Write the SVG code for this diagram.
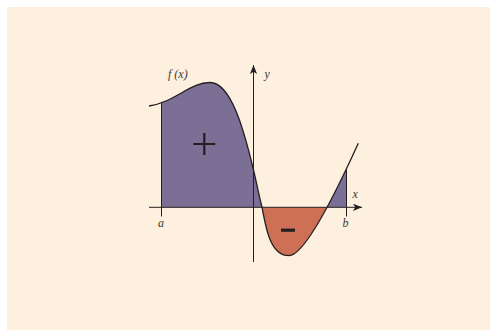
<svg xmlns="http://www.w3.org/2000/svg" width="490" height="331" viewBox="0 0 490 331">
<style>
.lbl{font-family:"Liberation Serif","DejaVu Serif",serif;font-style:italic;font-size:12px;fill:#3a3a3a}
.ax{stroke:#231f20;stroke-width:1;fill:none}
.crv{stroke:#231f20;stroke-width:1.3;fill:none}
</style>
<defs>
<marker id="arr" viewBox="0 0 10 8" refX="10" refY="4" markerUnits="userSpaceOnUse" markerWidth="9" markerHeight="7.2" orient="auto">
<path d="M0,0 L10,4 L0,8 L2.5,4 Z" fill="#231f20"/>
</marker>
<clipPath id="pos"><rect x="161.5" y="0" width="185" height="207.3"/></clipPath>
<clipPath id="neg"><rect x="161.5" y="207.3" width="185" height="100"/></clipPath>
</defs>
<rect x="0" y="0" width="490" height="331" fill="#ffffff"/>
<rect x="7" y="7" width="483" height="323" fill="#fef0de"/>
<g id="areas">
<path d="M149,106 C175,102 190,82.5 210,82.5 C231,82.5 244,130 253.5,170 C257,185 259,195 261.5,205 C265,220 268,255.7 289,255.7 C305,255.7 338.3,187.3 358.3,143.3 L358.3,207.3 L149,207.3 Z" fill="#7b6f96" clip-path="url(#pos)"/>
<path d="M149,106 C175,102 190,82.5 210,82.5 C231,82.5 244,130 253.5,170 C257,185 259,195 261.5,205 C265,220 268,255.7 289,255.7 C305,255.7 338.3,187.3 358.3,143.3 L358.3,207.3 L149,207.3 Z" fill="#cd7056" clip-path="url(#neg)"/>
</g>
<g id="connectors">
<line class="ax" x1="149" y1="207.3" x2="362" y2="207.3" marker-end="url(#arr)"/>
<line class="ax" x1="253.5" y1="262" x2="253.5" y2="65" marker-end="url(#arr)"/>
<line class="ax" x1="161.5" y1="103" x2="161.5" y2="216.5"/>
<line class="ax" x1="346.5" y1="170" x2="346.5" y2="216.5"/>
</g>
<g id="curve">
<path class="crv" d="M149,106 C175,102 190,82.5 210,82.5 C231,82.5 244,130 253.5,170 C257,185 259,195 261.5,205 C265,220 268,255.7 289,255.7 C305,255.7 338.3,187.3 358.3,143.3"/>
</g>
<g id="signs">
<path d="M193.3,144 H215.3 M204.3,133 V155" stroke="#231f20" stroke-width="2.2" fill="none"/>
<rect x="281" y="228.6" width="14" height="3.2" fill="#231f20"/>
</g>
<g id="labels">
<text class="lbl" x="168" y="78">f (x)</text>
<text class="lbl" x="264.5" y="77.5">y</text>
<text class="lbl" x="352.5" y="197.5">x</text>
<text class="lbl" x="161" y="226.5" text-anchor="middle">a</text>
<text class="lbl" x="345.5" y="226.5" text-anchor="middle">b</text>
</g>
</svg>
